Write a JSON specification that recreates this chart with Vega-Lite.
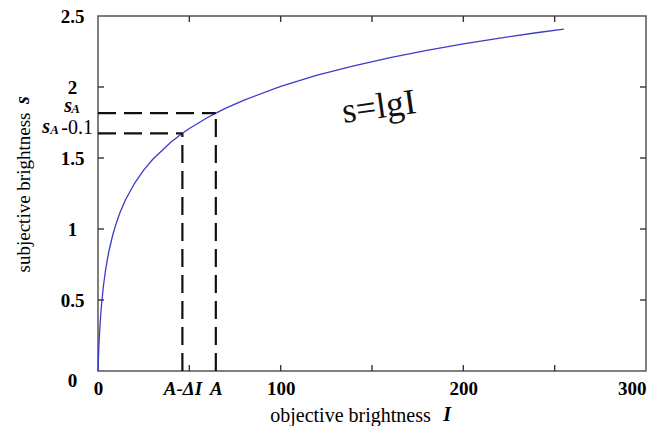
{
  "$schema": "https://vega.github.io/schema/vega-lite/v6.json",
  "width": 548,
  "height": 355,
  "autosize": "none",
  "padding": {"left": 98, "top": 16, "right": 8, "bottom": 55},
  "background": "white",
  "config": {"view": {"stroke": "#555", "strokeWidth": 1.5}, "font": "Liberation Serif"},
  "datasets": {
    "curve": [
      {"I": 0, "s": 0}, {"I": 0.2, "s": 0.079}, {"I": 0.5, "s": 0.176}, {"I": 1, "s": 0.301},
      {"I": 1.5, "s": 0.398}, {"I": 2, "s": 0.477}, {"I": 3, "s": 0.602}, {"I": 4, "s": 0.699},
      {"I": 5, "s": 0.778}, {"I": 6, "s": 0.845}, {"I": 8, "s": 0.954}, {"I": 10, "s": 1.041},
      {"I": 12, "s": 1.114}, {"I": 15, "s": 1.204}, {"I": 20, "s": 1.322}, {"I": 25, "s": 1.415},
      {"I": 30, "s": 1.491}, {"I": 40, "s": 1.613}, {"I": 46.2, "s": 1.674}, {"I": 50, "s": 1.708},
      {"I": 60, "s": 1.785}, {"I": 64.5, "s": 1.816}, {"I": 70, "s": 1.851}, {"I": 80, "s": 1.908},
      {"I": 100, "s": 2.004}, {"I": 120, "s": 2.083}, {"I": 140, "s": 2.149}, {"I": 160, "s": 2.207},
      {"I": 180, "s": 2.258}, {"I": 200, "s": 2.303}, {"I": 220, "s": 2.344}, {"I": 240, "s": 2.382},
      {"I": 255, "s": 2.408}
    ],
    "marks": [{"I": 46.2, "s": 1.674, "I0": 0, "s0": 0}, {"I": 64.5, "s": 1.816, "I0": 0, "s0": 0}],
    "xticks": [
      {"I": 50, "s": 0}, {"I": 100, "s": 0}, {"I": 150, "s": 0}, {"I": 200, "s": 0}, {"I": 250, "s": 0},
      {"I": 50, "s": 2.5}, {"I": 100, "s": 2.5}, {"I": 150, "s": 2.5}, {"I": 200, "s": 2.5}, {"I": 250, "s": 2.5}
    ],
    "yticks": [
      {"I": 0, "s": 0.5}, {"I": 0, "s": 1}, {"I": 0, "s": 1.5}, {"I": 0, "s": 2},
      {"I": 300, "s": 0.5}, {"I": 300, "s": 1}, {"I": 300, "s": 1.5}, {"I": 300, "s": 2}
    ]
  },
  "layer": [
    {
      "data": {"name": "curve"},
      "mark": {"type": "line", "color": "#3c3cc8", "strokeWidth": 1.3},
      "encoding": {
        "x": {
          "field": "I", "type": "quantitative",
          "scale": {"domain": [0, 300], "nice": false},
          "axis": {
            "orient": "bottom",
            "values": [0, 46.2, 64.5, 100, 200, 300],
            "labelExpr": "datum.value==46.2?'A-ΔI':datum.value==64.5?'A':datum.label",
            "domain": false, "grid": false, "ticks": false,
            "labelFont": "Liberation Serif", "labelFontSize": 19, "labelFontWeight": "bold",
            "labelFontStyle": {"condition": {"test": "datum.value==46.2||datum.value==64.5", "value": "italic"}, "value": "normal"},
            "labelAlign": {"condition": {"test": "datum.value==300", "value": "right"}, "value": "center"},
            "labelColor": "black", "labelPadding": 8, "labelBaseline": "top",
            "labelFlush": false, "labelOverlap": false, "labelBound": false,
            "title": "objective brightness", "titleFont": "Liberation Serif", "titleFontSize": 20,
            "titleFontWeight": "normal", "titleColor": "black",
            "titleX": 252, "titleY": 50, "titleBaseline": "alphabetic", "titleAlign": "center", "titleAngle": 0
          }
        },
        "y": {
          "field": "s", "type": "quantitative",
          "scale": {"domain": [0, 2.5], "nice": false},
          "axis": {
            "orient": "left",
            "values": [0, 0.5, 1, 1.5, 2, 2.5],
            "format": "~g",
            "domain": false, "grid": false, "ticks": false,
            "labelFont": "Liberation Serif", "labelFontSize": 19, "labelFontWeight": "bold",
            "labelColor": "black", "labelAlign": "center", "labelPadding": 26,
            "labelBaseline": {"condition": {"test": "datum.value==0", "value": "top"}, "value": "middle"},
            "labelFlush": false, "labelOverlap": false, "labelBound": false,
            "title": "subjective brightness", "titleFont": "Liberation Serif", "titleFontSize": 19,
            "titleFontWeight": "normal", "titleColor": "black",
            "titleAngle": 270, "titleX": -69, "titleY": 176, "titleBaseline": "alphabetic", "titleAlign": "center"
          }
        }
      }
    },
    {
      "data": {"name": "xticks"},
      "transform": [{"filter": "datum.s == 0"}],
      "mark": {"type": "tick", "orient": "vertical", "size": 6, "thickness": 1.4, "color": "#333", "opacity": 1, "yOffset": -3},
      "encoding": {
        "x": {"field": "I", "type": "quantitative", "axis": null},
        "y": {"field": "s", "type": "quantitative", "axis": null}
      }
    },
    {
      "data": {"name": "xticks"},
      "transform": [{"filter": "datum.s == 2.5"}],
      "mark": {"type": "tick", "orient": "vertical", "size": 6, "thickness": 1.4, "color": "#333", "opacity": 1, "yOffset": 3},
      "encoding": {
        "x": {"field": "I", "type": "quantitative", "axis": null},
        "y": {"field": "s", "type": "quantitative", "axis": null}
      }
    },
    {
      "data": {"name": "yticks"},
      "transform": [{"filter": "datum.I == 0"}],
      "mark": {"type": "tick", "orient": "horizontal", "size": 6, "thickness": 1.4, "color": "#333", "opacity": 1, "xOffset": 3},
      "encoding": {
        "x": {"field": "I", "type": "quantitative", "axis": null},
        "y": {"field": "s", "type": "quantitative", "axis": null}
      }
    },
    {
      "data": {"name": "yticks"},
      "transform": [{"filter": "datum.I == 300"}],
      "mark": {"type": "tick", "orient": "horizontal", "size": 6, "thickness": 1.4, "color": "#333", "opacity": 1, "xOffset": -3},
      "encoding": {
        "x": {"field": "I", "type": "quantitative", "axis": null},
        "y": {"field": "s", "type": "quantitative", "axis": null}
      }
    },
    {
      "data": {"name": "marks"},
      "mark": {"type": "rule", "color": "#111", "strokeWidth": 2.2, "strokeDash": [18, 8]},
      "encoding": {
        "x": {"field": "I0", "type": "quantitative", "axis": null},
        "x2": {"field": "I"},
        "y": {"field": "s", "type": "quantitative", "axis": null}
      }
    },
    {
      "data": {"name": "marks"},
      "mark": {"type": "rule", "color": "#111", "strokeWidth": 2.2, "strokeDash": [18, 8]},
      "encoding": {
        "x": {"field": "I", "type": "quantitative", "axis": null},
        "y": {"field": "s0", "type": "quantitative", "axis": null},
        "y2": {"field": "s"}
      }
    },
    {
      "data": {"values": [{"I": 153.8, "s": 1.859, "t": "s=lgI"}]},
      "mark": {"type": "text", "font": "Liberation Serif", "fontSize": 36, "angle": 352, "align": "center", "baseline": "middle", "color": "#111"},
      "encoding": {
        "x": {"field": "I", "type": "quantitative", "axis": null},
        "y": {"field": "s", "type": "quantitative", "axis": null},
        "text": {"field": "t"}
      }
    },
    {
      "data": {"values": [{"I": 0, "s": 1.816, "t": "s"}]},
      "mark": {"type": "text", "font": "Liberation Serif", "fontSize": 20, "fontWeight": "bold", "fontStyle": "italic", "align": "right", "baseline": "alphabetic", "dx": -26, "dy": -1, "color": "black"},
      "encoding": {
        "x": {"field": "I", "type": "quantitative", "axis": null},
        "y": {"field": "s", "type": "quantitative", "axis": null},
        "text": {"field": "t"}
      }
    },
    {
      "data": {"values": [{"I": 0, "s": 1.816, "t": "A"}]},
      "mark": {"type": "text", "font": "Liberation Serif", "fontSize": 13, "fontWeight": "bold", "fontStyle": "italic", "align": "right", "baseline": "alphabetic", "dx": -18, "dy": 0, "color": "black"},
      "encoding": {
        "x": {"field": "I", "type": "quantitative", "axis": null},
        "y": {"field": "s", "type": "quantitative", "axis": null},
        "text": {"field": "t"}
      }
    },
    {
      "data": {"values": [{"I": 0, "s": 1.674, "t": "-0.1"}]},
      "mark": {"type": "text", "font": "Liberation Serif", "fontSize": 20, "align": "right", "baseline": "alphabetic", "dx": -5, "dy": 1, "color": "black"},
      "encoding": {
        "x": {"field": "I", "type": "quantitative", "axis": null},
        "y": {"field": "s", "type": "quantitative", "axis": null},
        "text": {"field": "t"}
      }
    },
    {
      "data": {"values": [{"I": 0, "s": 1.674, "t": "A"}]},
      "mark": {"type": "text", "font": "Liberation Serif", "fontSize": 13, "fontWeight": "bold", "fontStyle": "italic", "align": "right", "baseline": "alphabetic", "dx": -39, "dy": 1, "color": "black"},
      "encoding": {
        "x": {"field": "I", "type": "quantitative", "axis": null},
        "y": {"field": "s", "type": "quantitative", "axis": null},
        "text": {"field": "t"}
      }
    },
    {
      "data": {"values": [{"I": 0, "s": 1.674, "t": "s"}]},
      "mark": {"type": "text", "font": "Liberation Serif", "fontSize": 20, "fontWeight": "bold", "fontStyle": "italic", "align": "right", "baseline": "alphabetic", "dx": -48, "dy": 0, "color": "black"},
      "encoding": {
        "x": {"field": "I", "type": "quantitative", "axis": null},
        "y": {"field": "s", "type": "quantitative", "axis": null},
        "text": {"field": "t"}
      }
    },
    {
      "data": {"values": [{"I": -37.8, "s": 1.908, "t": "s"}]},
      "mark": {"type": "text", "font": "Liberation Serif", "fontSize": 20, "fontWeight": "bold", "fontStyle": "italic", "angle": 270, "align": "center", "baseline": "alphabetic", "color": "black"},
      "encoding": {
        "x": {"field": "I", "type": "quantitative", "axis": null},
        "y": {"field": "s", "type": "quantitative", "axis": null},
        "text": {"field": "t"}
      }
    },
    {
      "data": {"values": [{"I": 189, "s": -0.352, "t": "I"}]},
      "mark": {"type": "text", "font": "Liberation Serif", "fontSize": 20, "fontWeight": "bold", "fontStyle": "italic", "align": "left", "baseline": "alphabetic", "color": "black"},
      "encoding": {
        "x": {"field": "I", "type": "quantitative", "axis": null},
        "y": {"field": "s", "type": "quantitative", "axis": null},
        "text": {"field": "t"}
      }
    }
  ],
  "resolve": {"axis": {"x": "independent", "y": "independent"}}
}
